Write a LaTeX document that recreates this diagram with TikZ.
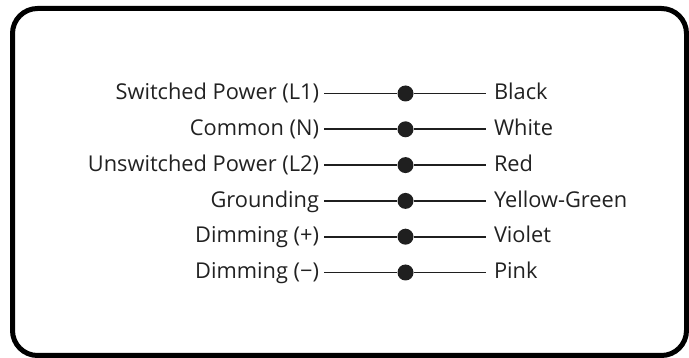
\documentclass[tikz,border=0pt]{standalone}
\usepackage{fontspec}
\setmainfont{Open Sans}
\usepackage{tikz}

\begin{document}
\begin{tikzpicture}[x=1pt,y=-1pt,
		wire/.style={line width=1.8pt,color=black!88},
		dot/.style={circle,fill=black!88,inner sep=0pt,minimum size=16pt},
		lname/.style={anchor=east,inner sep=0pt,outer sep=5pt,text height=15pt,text depth=2.5pt,text=black!87,font=\fontsize{21.8}{26}\selectfont},
		rname/.style={anchor=west,inner sep=0pt,outer sep=8pt,text height=15pt,text depth=2.5pt,text=black!87,font=\fontsize{21.8}{26}\selectfont}]
			\useasboundingbox (0,0) rectangle (689,358);
			\draw[line width=5pt,rounded corners=25pt] (12.5,8.5) rectangle (686.5,355.5);
			\node[lname] (l1) at (324,93.5) {Switched Power (L1)};
			\node[lname] (l2) at (324,129.3) {Common (N)};
			\node[lname] (l3) at (324,165.1) {Unswitched Power (L2)};
			\node[lname] (l4) at (324,200.9) {Grounding};
			\node[lname] (l5) at (324,236.7) {Dimming (+)};
			\node[lname] (l6) at (324,272.5) {Dimming (\textminus)};
			\node[dot] (d1) at (405.5,93.5) {};
			\node[dot] (d2) at (405.5,129.3) {};
			\node[dot] (d3) at (405.5,165.1) {};
			\node[dot] (d4) at (405.5,200.9) {};
			\node[dot] (d5) at (405.5,236.7) {};
			\node[dot] (d6) at (405.5,272.5) {};
			\node[rname] (r1) at (486,93.5) {Black};
			\node[rname] (r2) at (486,129.3) {White};
			\node[rname] (r3) at (486,165.1) {Red};
			\node[rname] (r4) at (486,200.9) {Yellow-Green};
			\node[rname] (r5) at (486,236.7) {Violet};
			\node[rname] (r6) at (486,272.5) {Pink};
			\draw[wire] (l1) -- (d1) -- (r1);
			\draw[wire] (l2) -- (d2) -- (r2);
			\draw[wire] (l3) -- (d3) -- (r3);
			\draw[wire] (l4) -- (d4) -- (r4);
			\draw[wire] (l5) -- (d5) -- (r5);
			\draw[wire] (l6) -- (d6) -- (r6);
		\end{tikzpicture}
\end{document}
